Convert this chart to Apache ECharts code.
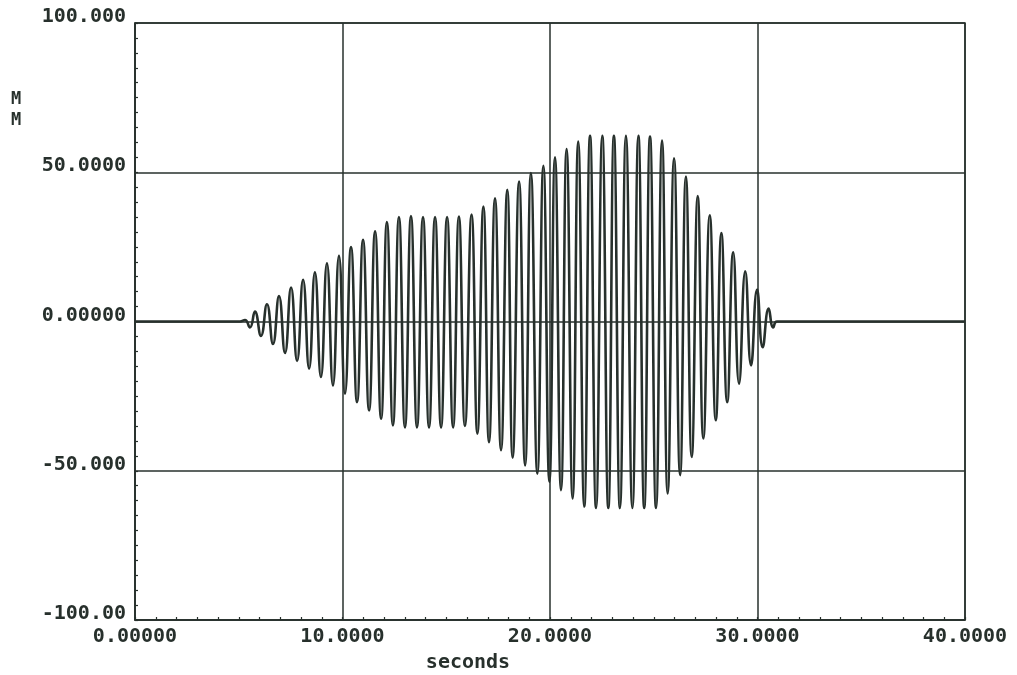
<!DOCTYPE html>
<html>
<head>
<meta charset="utf-8">
<script src="https://cdn.jsdelivr.net/npm/echarts@6/dist/echarts.min.js"></script>
<style>
html,body{margin:0;padding:0;background:#ffffff;}
#chart{width:1017px;height:675px;}
</style>
</head>
<body>
<div id="chart"></div>
<script>
// Extrema of the trace (seconds, MM)
var times = [0, 5.06, 5.30, 5.54, 5.78, 6.07, 6.36, 6.65, 6.94, 7.23, 7.52, 7.81, 8.10, 8.39, 8.67, 8.96, 9.25, 9.54, 9.83, 10.12, 10.41, 10.70, 10.99, 11.28, 11.57, 11.86, 12.14, 12.43, 12.72, 13.01, 13.30, 13.59, 13.88, 14.17, 14.46, 14.75, 15.04, 15.33, 15.61, 15.90, 16.22, 16.50, 16.79, 17.06, 17.35, 17.64, 17.94, 18.20, 18.51, 18.80, 19.08, 19.39, 19.68, 19.97, 20.24, 20.53, 20.80, 21.09, 21.36, 21.65, 21.93, 22.22, 22.52, 22.81, 23.08, 23.37, 23.66, 23.97, 24.26, 24.54, 24.82, 25.11, 25.40, 25.67, 25.98, 26.27, 26.55, 26.83, 27.12, 27.39, 27.70, 27.99, 28.26, 28.54, 28.83, 29.11, 29.41, 29.69, 29.98, 30.25, 30.54, 30.76, 30.94, 40];
var values = [0, 0, 0.5, -2, 3.3, -4.8, 5.8, -7.5, 8.5, -10.5, 11.4, -13.2, 14, -15.8, 16.5, -18.6, 19.5, -21.4, 22, -24.2, 24.9, -27, 27.4, -29.8, 30.2, -32.6, 33.3, -34.8, 35, -35.5, 35.3, -35.5, 35, -35.5, 35, -35.5, 35, -35.5, 35.2, -35, 35.8, -37.6, 38.5, -40.4, 41.3, -43.1, 44.1, -45.6, 46.9, -48.2, 49.7, -51, 52.2, -53.7, 55, -56.5, 57.8, -59.3, 60.3, -62, 62.2, -62.5, 62.2, -62.5, 62.2, -62.5, 62.2, -62.5, 62.2, -62.5, 62, -62.5, 60.6, -57.6, 54.7, -51.5, 48.6, -45.4, 42, -39.2, 35.6, -33.1, 29.6, -27, 23.2, -20.8, 16.8, -14.7, 10.7, -8.6, 4.3, -2, 0, 0];

var xTickValues = [0, 10, 20, 30, 40];
var xTickLabels = ['0.00000', '10.0000', '20.0000', '30.0000', '40.0000'];
var yTickValues = [-100, -50, 0, 50, 100];
var yTickLabels = ['-100.00', '-50.000', '0.00000', '50.0000', '100.000'];

var xName = 'seconds';
var yName = 'M\nM';

var ink = '#27302c';
var font = 'DejaVu Sans Mono';

var seriesData = times.map(function (t, i) { return [t, values[i]]; });

function lookup(vals, labels, v) {
  for (var i = 0; i < vals.length; i++) {
    if (Math.abs(vals[i] - v) < 1e-9) return labels[i];
  }
  return '';
}

var chart = echarts.init(document.getElementById('chart'), null, {renderer: 'canvas'});
chart.setOption({
  backgroundColor: '#ffffff',
  animation: false,
  grid: {
    left: 135, right: 52, top: 23, bottom: 55,
    outerBoundsMode: 'none', containLabel: false,
    show: true, borderColor: ink, borderWidth: 1.5, backgroundColor: 'transparent'
  },
  xAxis: {
    type: 'value', min: 0, max: 40, interval: 10,
    name: xName, nameLocation: 'middle', nameGap: 33,
    nameTextStyle: {fontFamily: font, fontSize: 20, fontWeight: 'bold', color: ink, padding: [0, 164, 0, 0]},
    axisLine: {show: true, onZero: false, lineStyle: {color: ink, width: 1.5}},
    axisTick: {show: true, inside: true, length: 3, lineStyle: {color: ink, width: 1.2}},
    minorTick: {show: true, inside: true, splitNumber: 10, length: 3, lineStyle: {color: ink, width: 1.2}},
    splitLine: {show: true, lineStyle: {color: ink, width: 1.5}},
    axisLabel: {
      margin: 7, fontFamily: font, fontSize: 20, fontWeight: 'bold', color: ink,
      formatter: function (v) { return lookup(xTickValues, xTickLabels, v); }
    }
  },
  yAxis: {
    type: 'value', min: -100, max: 100, interval: 50,
    axisLine: {show: true, onZero: false, lineStyle: {color: ink, width: 1.5}},
    axisTick: {show: true, inside: true, length: 3, lineStyle: {color: ink, width: 1.2}},
    minorTick: {show: true, inside: true, splitNumber: 10, length: 3, lineStyle: {color: ink, width: 1.2}},
    splitLine: {show: true, lineStyle: {color: ink, width: 1.5}},
    axisLabel: {
      margin: 9, fontFamily: font, fontSize: 20, fontWeight: 'bold', color: ink,
      verticalAlign: 'bottom', lineHeight: 12,
      formatter: function (v) { return lookup(yTickValues, yTickLabels, v); }
    }
  },
  graphic: [{
    type: 'text', left: 11, top: 89,
    style: {text: yName, font: 'bold 17px "DejaVu Sans Mono"', fill: ink, lineHeight: 21}
  }],
  series: [{
    type: 'line',
    data: seriesData,
    smooth: 0.5,
    showSymbol: false,
    lineStyle: {color: ink, width: 2.6},
    z: 5
  }]
});
</script>
</body>
</html>
